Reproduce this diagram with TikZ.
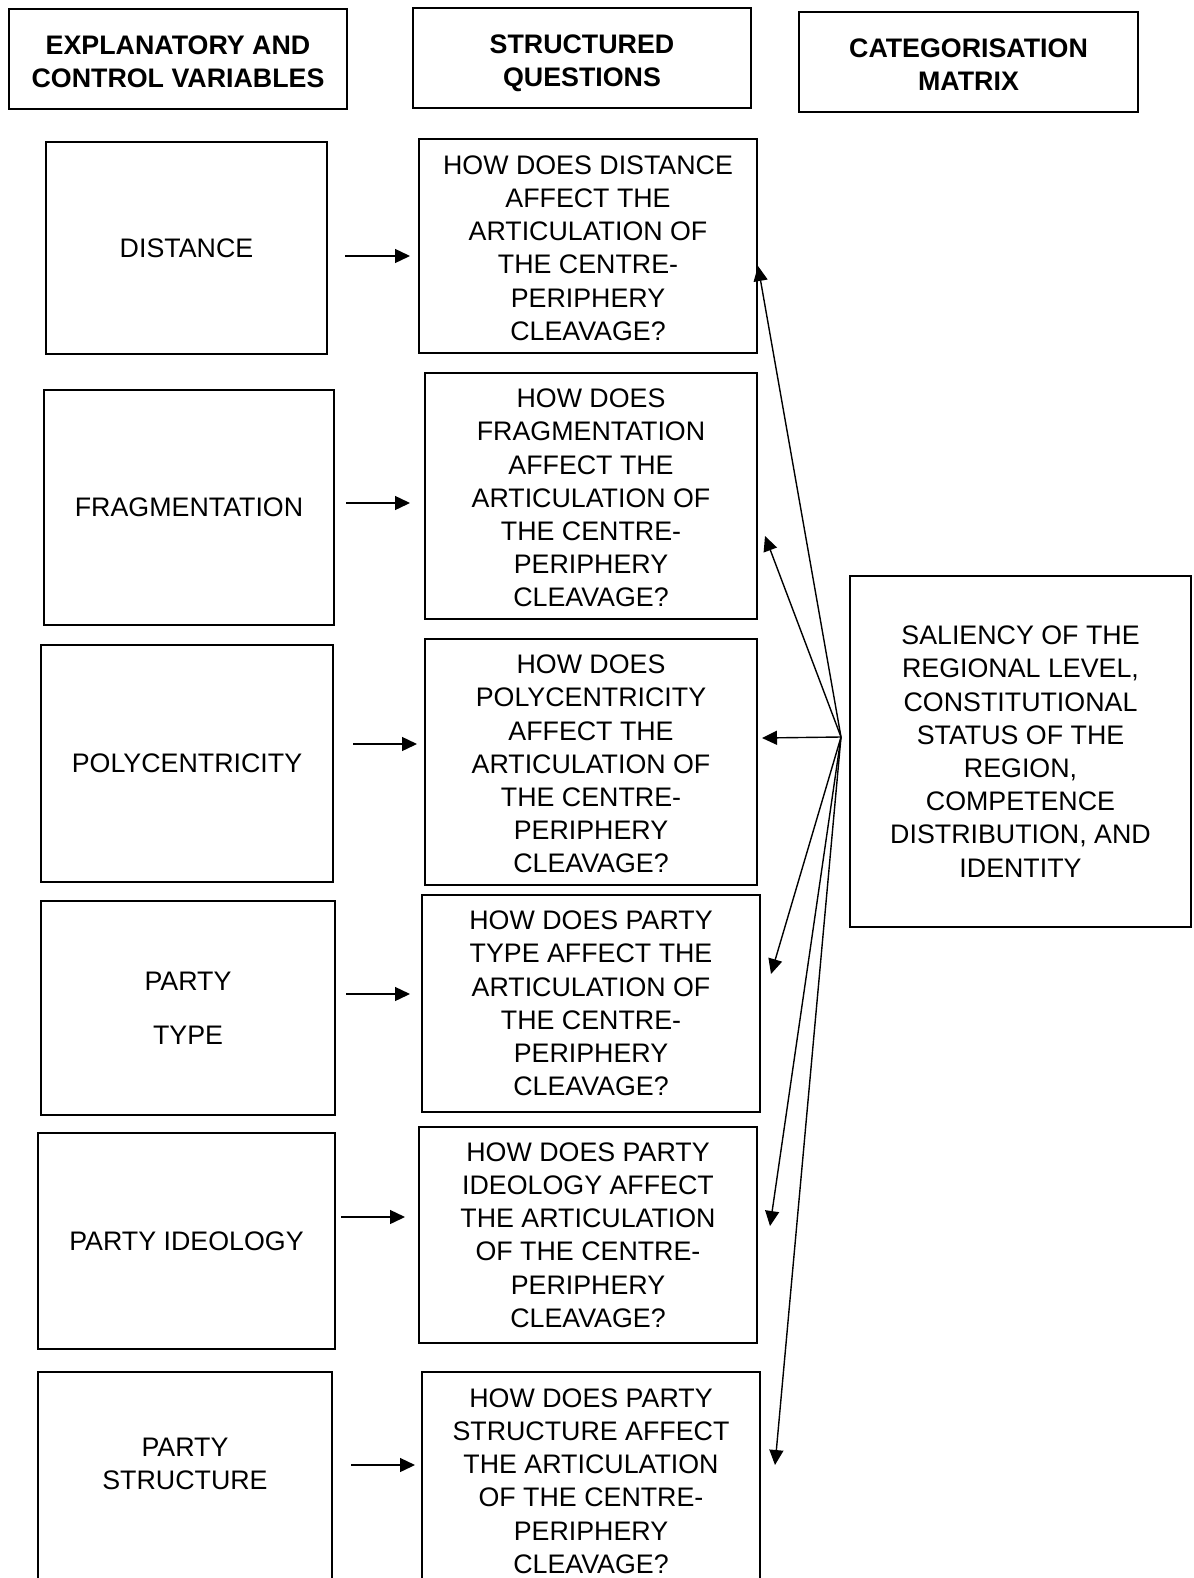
\documentclass[tikz,border=0pt]{standalone}
\usepackage{fontspec}
\setmainfont{Liberation Sans}
\usetikzlibrary{fit,arrows.meta,calc}
\begin{document}
\begin{tikzpicture}[x=0.5pt,y=-0.5pt,
 box/.style={draw, line width=1pt, inner sep=0pt},
 txt/.style={inner sep=0pt, align=center, font=\fontsize{13.4}{16.6}\selectfont},
 htxt/.style={txt, font=\fontsize{13.4}{16.6}\selectfont\bfseries},
 arr/.style={line width=0.7pt, -{Triangle[length=7.5pt,width=7pt]}}]
\clip (0,0) rectangle (1193,1578);
% headers
\node[box, fit={(9,9) (347,109)}] (H1) {};
\node[htxt] (H1t) at ($(H1.center)+(0,3)$) {EXPLANATORY AND\\CONTROL VARIABLES};
\node[box, fit={(413,8) (751,108)}] (H2) {};
\node[htxt] (H2t) at ($(H2.center)+(0,5)$) {STRUCTURED\\QUESTIONS};
\node[box, fit={(799,12) (1138,112)}] (H3) {};
\node[htxt] (H3t) at ($(H3.center)+(0,3)$) {CATEGORISATION\\MATRIX};
% left column
\node[box, fit={(46,142) (327,354)}] (L1) {};
\node[txt] (L1t) at (L1.center) {DISTANCE};
\node[box, fit={(44,390) (334,625)}] (L2) {};
\node[txt] (L2t) at (L2.center) {FRAGMENTATION};
\node[box, fit={(41,645) (333,882)}] (L3) {};
\node[txt] (L3t) at (L3.center) {POLYCENTRICITY};
\node[box, fit={(41,901) (335,1115)}] (L4) {};
\node[txt] (L4t) at (L4.center) {PARTY\\[10.4pt]TYPE};
\node[box, fit={(38,1133) (335,1349)}] (L5) {};
\node[txt] (L5t) at (L5.center) {PARTY IDEOLOGY};
\node[box, fit={(38,1372) (332,1700)}] (L6) {};
\node[txt] (L6t) at (185,1464) {PARTY\\STRUCTURE};
% middle column
\node[box, fit={(419,139) (757,353)}] (Q1) {};
\node[txt] (Q1t) at ($(Q1.center)+(0,2)$) {HOW DOES DISTANCE\\AFFECT THE\\ARTICULATION OF\\THE CENTRE-\\PERIPHERY\\CLEAVAGE?};
\node[box, fit={(425,373) (757,619)}] (Q2) {};
\node[txt] (Q2t) at ($(Q2.center)+(0,2)$) {HOW DOES\\FRAGMENTATION\\AFFECT THE\\ARTICULATION OF\\THE CENTRE-\\PERIPHERY\\CLEAVAGE?};
\node[box, fit={(425,639) (757,885)}] (Q3) {};
\node[txt] (Q3t) at ($(Q3.center)+(0,2)$) {HOW DOES\\POLYCENTRICITY\\AFFECT THE\\ARTICULATION OF\\THE CENTRE-\\PERIPHERY\\CLEAVAGE?};
\node[box, fit={(422,895) (760,1112)}] (Q4) {};
\node[txt] (Q4t) at (Q4.center) {HOW DOES PARTY\\TYPE AFFECT THE\\ARTICULATION OF\\THE CENTRE-\\PERIPHERY\\CLEAVAGE?};
\node[box, fit={(419,1127) (757,1343)}] (Q5) {};
\node[txt] (Q5t) at (Q5.center) {HOW DOES PARTY\\IDEOLOGY AFFECT\\THE ARTICULATION\\OF THE CENTRE-\\PERIPHERY\\CLEAVAGE?};
\node[box, fit={(422,1372) (760,1700)}] (Q6) {};
\node[txt] (Q6t) at (591,1481) {HOW DOES PARTY\\STRUCTURE AFFECT\\THE ARTICULATION\\OF THE CENTRE-\\PERIPHERY\\CLEAVAGE?};
% right box
\node[box, fit={(850,576) (1191,927)}] (R) {};
\node[txt] (Rt) at (R.center) {SALIENCY OF THE\\REGIONAL LEVEL,\\CONSTITUTIONAL\\STATUS OF THE\\REGION,\\COMPETENCE\\DISTRIBUTION, AND\\IDENTITY};
% horizontal arrows
\coordinate (a1) at (345,256); \coordinate (b1) at (410,256);
\coordinate (a2) at (346,503); \coordinate (b2) at (410,503);
\coordinate (a3) at (353,744); \coordinate (b3) at (417,744);
\coordinate (a4) at (346,994); \coordinate (b4) at (410,994);
\coordinate (a5) at (341,1217); \coordinate (b5) at (405,1217);
\coordinate (a6) at (351,1465); \coordinate (b6) at (415,1465);
\foreach \i in {1,...,6} {\draw[arr] (a\i) -- (b\i);}
% fan arrows
\coordinate (F) at (841,737);
\coordinate (T1) at (758,266);
\coordinate (T2) at (765,536);
\coordinate (T3) at (762,738);
\coordinate (T4) at (771,974);
\coordinate (T5) at (770,1226);
\coordinate (T6) at (775,1465);
\foreach \i in {1,...,6} {\draw[arr] (F) -- (T\i);}
\end{tikzpicture}
\end{document}
